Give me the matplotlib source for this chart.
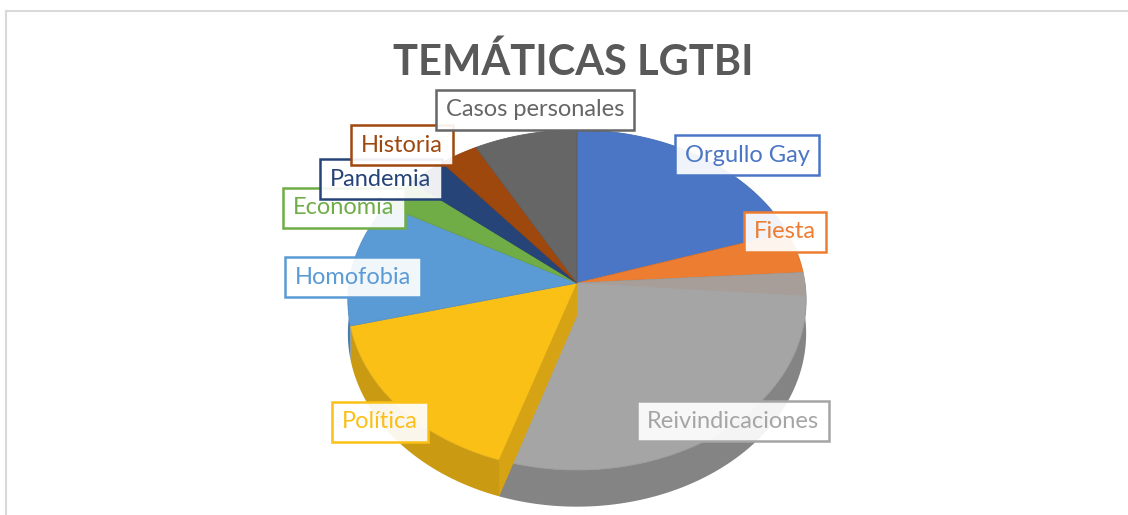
import numpy as np
import matplotlib.pyplot as plt
from matplotlib.patches import Polygon

# datos (porcentaje de cada temática)
categorias = ["Orgullo Gay", "Fiesta", "Reivindicaciones", "Política", "Homofobia",
              "Economía", "Pandemia", "Historia", "Casos personales"]
valores = [20, 4, 31, 16, 12, 3, 3, 3, 8]
colores = ["#4A76C5", "#ED7D31", "#A5A5A5", "#FBC016", "#5B9BD5",
           "#70AD47", "#264478", "#9E480E", "#666666"]

# posiciones de las etiquetas (pixeles)
pos_etiquetas = [(747, 155), (785, 232), (733, 421), (380, 422), (353, 277),
                 (344, 208), (381, 179), (402, 145), (535, 110)]

# geometría de la tarta "3D" (perspectiva simple)
CX, CY = 577, 283
RX, A, K = 228, 140, 0.1
DEPTH = 33


def proj(theta_deg, r=1.0, drop=0.0):
    t = np.radians(theta_deg)
    u = r * np.sin(t)
    v = r * np.cos(t)
    w = 1 + K * v
    x = CX + RX * u / w
    y = (CY - A * v) / w + drop / w
    return x, y


def rim(a, b, drop=0.0):
    th = np.linspace(a, b, max(int(abs(b - a)), 2) + 1)
    xs, ys = proj(th, 1.0, drop)
    return list(zip(xs, ys))


def oscurecer(c, f):
    c = np.array(plt.matplotlib.colors.to_rgb(c))
    return tuple(c * f)


fig = plt.figure(figsize=(11.28, 5.15), dpi=100)
ax = fig.add_axes([0, 0, 1, 1])
ax.set_xlim(0, 1128)
ax.set_ylim(515, 0)
ax.axis("off")

# marco del gráfico
ax.plot([6, 1128], [11, 11], color="#d9d9d9", lw=1.5)
ax.plot([6, 6], [11, 515], color="#d9d9d9", lw=1.5)

total = sum(valores)
angulos = np.cumsum([0] + [v / total * 360 for v in valores])

# caras laterales (solo la mitad delantera)
for i, c in enumerate(colores):
    a, b = angulos[i], angulos[i + 1]
    a2, b2 = max(a, 90), min(b, 270)
    if b2 > a2:
        top = rim(a2, b2)
        bot = rim(a2, b2, DEPTH)[::-1]
        ax.add_patch(Polygon(top + bot, closed=True, fc=oscurecer(c, 0.8), ec="none"))

# caras superiores
for i, c in enumerate(colores):
    a, b = angulos[i], angulos[i + 1]
    pts = [proj(0, 0.0)] + rim(a, b)
    ax.add_patch(Polygon(pts, closed=True, fc=c, ec=oscurecer(c, 0.92), lw=0.6))

# banda de sombra en Reivindicaciones
a = angulos[2]
ax.add_patch(Polygon([proj(0, 0.0)] + rim(a, a + 8), closed=True,
                     fc="#a89d96", ec="none", alpha=0.8))

# pared radial de Política
b = angulos[3]
x0, y0 = proj(0, 0.0)
p1 = proj(b)
p2 = proj(b, 1.0, DEPTH)
ax.add_patch(Polygon([(x0, y0), p1, p2, (x0, y0 + DEPTH)], closed=True,
                     fc=oscurecer(colores[3], 0.85), ec="none"))

# etiquetas
for nombre, (x, y), c in zip(categorias, pos_etiquetas, colores):
    ax.text(x, y, nombre, ha="center", va="center", fontsize=17,
            family=["Lato", "DejaVu Sans"], color=c,
            bbox=dict(boxstyle="square,pad=0.42", fc=(1, 1, 1, 0.92), ec=c, lw=1.8))

ax.text(573, 62, "TEMÁTICAS LGTBI", ha="center", va="center", fontsize=30,
        fontweight="bold", family=["Lato", "DejaVu Sans"], color="#595959")

fig.savefig("out.png", dpi=100)
